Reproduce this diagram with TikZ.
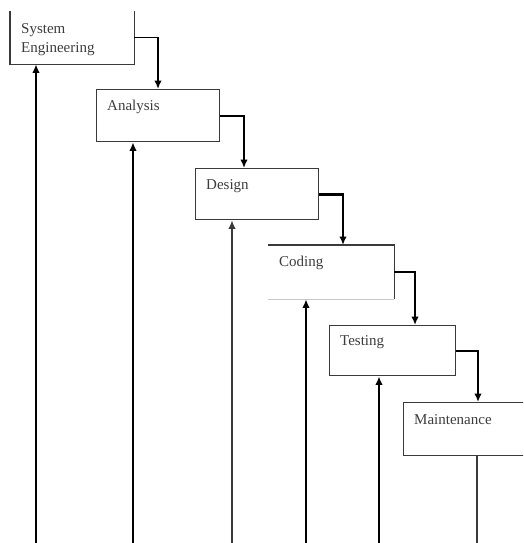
\documentclass[tikz,border=0pt]{standalone}
\usepackage{fontspec}
\setmainfont{Liberation Serif}
\usepackage{tikz}
\usetikzlibrary{arrows.meta}
\definecolor{inkgray}{HTML}{3A3A3A}
\definecolor{textgray}{HTML}{3C3C3C}
\definecolor{faintgray}{HTML}{C8C8C8}

\begin{document}
\begin{tikzpicture}[x=1pt, y=-1pt,
    phase/.style={draw=inkgray, line width=1.4pt, anchor=north west,
                  inner xsep=10.5pt, inner ysep=0pt, text width=102pt,
                  align=left, text height=21pt, text depth=31pt,
                  font=\fontsize{15}{19}\selectfont, text=textgray},
    openphase/.style={phase, draw=none},
    edge/.style={draw=inkgray, line width=1.4pt},
    flow/.style={-{Latex[length=8.5pt,width=7.5pt]}, line width=1.6pt},
    back/.style={flow, line width=1.5pt},
    rule/.style={draw=faintgray, line width=1pt}
]
    \useasboundingbox (0,0) rectangle (523,543);
    \clip (0,0) rectangle (523,543);

    % phases of the cascade
    \node[openphase, text height=22pt, text depth=30pt] (syseng) at (10,11)
        {System\\Engineering};
    \node[phase] (analysis) at (96,89) {Analysis};
    \node[phase, text depth=30pt] (design) at (195,168) {Design};
    \node[openphase, text width=104pt, text depth=32pt] (coding) at (268,245) {Coding};
    \node[phase, text width=105pt, text height=20pt, text depth=30pt] (testing) at (329,325) {Testing};
    \node[phase, text height=22pt, text depth=31pt] (maint) at (403,402) {Maintenance};

    % open sides
    \draw[edge] (syseng.north west) -- (syseng.south west)
        -- (syseng.south east) -- (syseng.north east);
    \draw[edge] (coding.north west) -- (coding.north east) -- (coding.south east);
    \draw[rule] (coding.south east) -- (coding.south west);

    % forward flow
    \draw[flow] (syseng.east) -| ([xshift=62pt]analysis.north west);
    \draw[flow] (analysis.east) -| ([xshift=49pt]design.north west);
    \draw[flow, line width=2.6pt] (design.east) -| ([xshift=75pt]coding.north west);
    \draw[flow] (coding.east) -| ([xshift=86pt]testing.north west);
    \draw[flow] (testing.east) -| ([xshift=75pt]maint.north west);

    % feedback lines
    \coordinate (foot1) at (36,543);
    \coordinate (foot2) at (133,543);
    \coordinate (foot3) at (232,543);
    \coordinate (foot4) at (306,543);
    \coordinate (foot5) at (379,543);
    \coordinate (foot6) at (477,543);
    \coordinate (rim) at (523,543);

    \draw[rule] (foot1) -- (rim);
    \draw[back] (foot1) -- (foot1 |- syseng.south);
    \draw[back] (foot2) -- (foot2 |- analysis.south);
    \draw[back, draw=inkgray] (foot3) -- (foot3 |- design.south);
    \draw[back] (foot4) -- (foot4 |- coding.south);
    \draw[back, line width=2.6pt] (foot5) -- (foot5 |- testing.south);
    \draw[edge, line width=1.2pt] (maint.south -| foot6) -- (foot6);
\end{tikzpicture}
\end{document}
